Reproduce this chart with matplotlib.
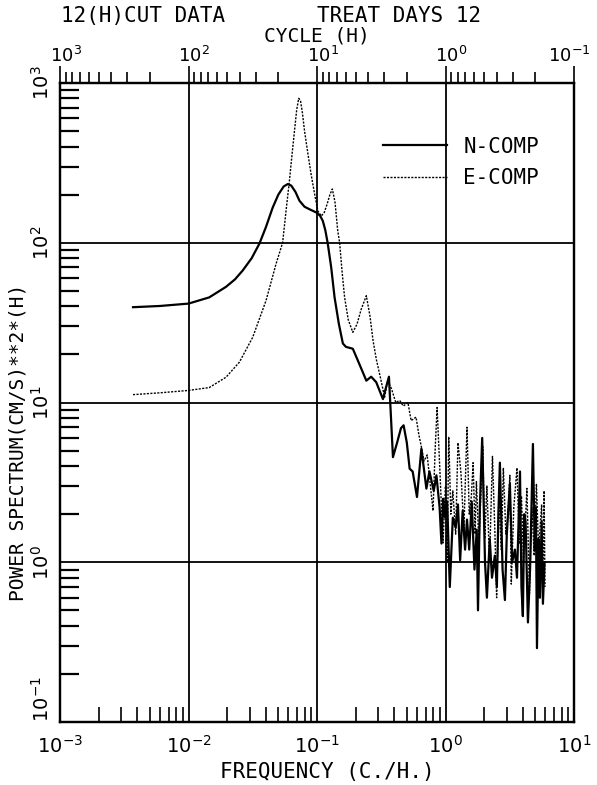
import numpy as np
import matplotlib.pyplot as plt
import matplotlib.transforms as mtransforms
from matplotlib.ticker import FixedLocator, NullFormatter

plt.rcParams['font.family'] = ['DejaVu Sans Mono', 'DejaVu Sans']

# N-COMP spectrum (solid)
n_freq = [0.0037, 0.006, 0.0100, 0.0145, 0.0196, 0.0230, 0.0264, 0.031, 0.0356, 0.040,
          0.0452, 0.050, 0.055, 0.0592, 0.063, 0.068, 0.0731, 0.080, 0.0875, 0.095,
          0.100, 0.106, 0.111, 0.116, 0.121, 0.129, 0.137, 0.148, 0.159, 0.168,
          0.19, 0.208, 0.227, 0.242, 0.264, 0.289, 0.326, 0.345, 0.363, 0.39,
          0.42, 0.45, 0.472, 0.50, 0.526, 0.555, 0.60, 0.649, 0.71, 0.75,
          0.81, 0.85, 0.90, 0.93, 0.96, 0.986, 1.03, 1.08, 1.14, 1.20,
          1.25, 1.30, 1.36, 1.42, 1.47, 1.53, 1.60, 1.68, 1.75, 1.79,
          1.85, 1.93, 2.03, 2.10, 2.21, 2.30, 2.42, 2.51, 2.58, 2.65,
          2.78, 2.90, 3.0, 3.17, 3.30, 3.47, 3.60, 3.80, 3.90, 4.0,
          4.1, 4.2, 4.38, 4.55, 4.79, 4.95, 5.05, 5.15, 5.3, 5.43,
          5.6, 5.73, 5.9]
n_power = [39.5, 40.2, 41.6, 45.5, 53, 59, 67, 80, 98.6, 125,
           166, 200, 225, 233, 228, 208, 183, 168, 162, 157,
           154, 147, 137, 120, 100, 70, 45.5, 31, 23.4, 22.3,
           21.7, 18.3, 15.5, 13.7, 14.5, 13.4, 10.5, 12.5, 14.5, 4.55,
           5.6, 6.9, 7.2, 5.6, 3.85, 3.7, 2.56, 5.14, 2.89, 3.7,
           2.8, 3.5, 2.2, 1.31, 2.5, 1.92, 2.4, 0.70, 1.9, 1.65,
           2.3, 1.03, 2.1, 1.2, 1.85, 1.2, 2.4, 0.9, 1.6, 0.5,
           2.2, 6.0, 1.0, 0.6, 1.4, 0.8, 1.1, 0.7, 2.0, 4.2,
           0.9, 0.58, 1.5, 3.1, 1.0, 1.2, 0.8, 3.7, 0.7, 0.46,
           2.0, 1.8, 0.42, 0.9, 5.5, 1.2, 2.2, 0.29, 1.4, 0.6,
           1.8, 0.55, 1.0]

# E-COMP spectrum (dotted)
e_freq = [0.0037, 0.006, 0.0100, 0.0145, 0.0196, 0.0249, 0.0316, 0.0401, 0.048, 0.054,
          0.0575, 0.061, 0.064, 0.0668, 0.0695, 0.0721, 0.0745, 0.077, 0.080, 0.085,
          0.090, 0.096, 0.1016, 0.108, 0.114, 0.120, 0.126, 0.1316, 0.138, 0.145,
          0.150, 0.157, 0.164, 0.175, 0.19, 0.205, 0.22, 0.242, 0.258, 0.273,
          0.29, 0.307, 0.336, 0.354, 0.38, 0.41, 0.44, 0.47, 0.51, 0.54,
          0.59, 0.62, 0.65, 0.68, 0.72, 0.76, 0.80, 0.83, 0.86, 0.90,
          0.956, 1.0, 1.03, 1.06, 1.10, 1.14, 1.20, 1.25, 1.32, 1.39,
          1.47, 1.53, 1.59, 1.64, 1.70, 1.74, 1.82, 1.95, 2.02, 2.10,
          2.20, 2.32, 2.42, 2.50, 2.60, 2.72, 2.82, 2.95, 3.05, 3.17,
          3.25, 3.40, 3.6, 3.75, 3.9, 4.05, 4.3, 4.5, 4.7, 4.9,
          5.1, 5.3, 5.6, 5.73, 5.85, 5.95]
e_power = [11.2, 11.5, 11.9, 12.4, 14.4, 17.9, 25.6, 43.4, 73.7, 100,
           160, 244, 360, 501, 680, 802, 770, 650, 500, 360,
           268, 200, 158, 147, 155, 175, 200, 217, 180, 119,
           100, 65, 45.5, 33, 27.5, 31, 38, 46.6, 35, 24.4,
           18.5, 15.1, 10.8, 13.7, 12.2, 10.0, 10.3, 9.5, 10.0, 7.7,
           8.1, 6.3, 5.25, 4.3, 4.7, 3.1, 2.1, 5.0, 9.3, 4.1,
           1.32, 3.0, 1.0, 6.1, 2.0, 2.8, 1.5, 5.6, 3.6, 1.6,
           7.0, 2.0, 2.6, 4.2, 1.5, 3.2, 1.3, 5.3, 1.4, 3.0,
           1.0, 4.6, 1.6, 0.6, 2.5, 1.2, 3.9, 1.5, 1.9, 3.5,
           0.73, 2.2, 3.9, 1.3, 2.6, 1.0, 2.9, 0.64, 2.2, 1.1,
           3.1, 1.2, 2.3, 0.55, 2.8, 0.7]

decades = [1e-3, 1e-2, 1e-1, 1e0, 1e1]
x_labels = ['$10^{-3}$', '$10^{-2}$', '$10^{-1}$', '$10^{0}$', '$10^{1}$']
y_decades = [1e-1, 1e0, 1e1, 1e2, 1e3]
y_labels = ['$10^{-1}$', '$10^{0}$', '$10^{1}$', '$10^{2}$', '$10^{3}$']
cycle_labels = ['$10^{3}$', '$10^{2}$', '$10^{1}$', '$10^{0}$', '$10^{-1}$']

fig = plt.figure(figsize=(5.97, 7.85), dpi=100)
ax = fig.add_axes([60/597, 1 - 722/785, 514/597, 639/785])

ax.plot(n_freq, n_power, color='black', lw=1.6, label='N-COMP')
ax.plot(e_freq, e_power, color='black', lw=1.0, linestyle=(0, (1.5, 1.0)), label='E-COMP')

ax.set_xscale('log')
ax.set_yscale('log')
ax.set_xlim(1e-3, 1e1)
ax.set_ylim(1e-1, 1e3)

ax.xaxis.set_major_locator(FixedLocator(decades))
ax.set_xticklabels(x_labels, fontsize=14)
ax.yaxis.set_major_locator(FixedLocator(y_decades))
ax.set_yticklabels(y_labels, fontsize=14, rotation=90, va='center')
ax.get_yticklabels()[0].set_va('bottom')

minor = [k * 10.0 ** n for n in range(-3, 3) for k in range(2, 10)]
ax.xaxis.set_minor_locator(FixedLocator([m for m in minor if 1e-3 < m < 1e1]))
ax.yaxis.set_minor_locator(FixedLocator([m for m in minor if 1e-1 < m < 1e3]))
ax.xaxis.set_minor_formatter(NullFormatter())
ax.yaxis.set_minor_formatter(NullFormatter())

ax.grid(which='major', color='black', lw=1.3)
ax.tick_params(axis='x', which='major', length=0, pad=9)
ax.tick_params(axis='y', which='major', length=0, pad=5)
ax.tick_params(axis='x', which='minor', direction='in', length=11, width=1.2, top=False)
ax.tick_params(axis='y', which='minor', direction='in', length=14, width=1.6, right=False)
for s in ax.spines.values():
    s.set_linewidth(1.6)

# top axis: cycle (h) = 1 / frequency
ax2 = ax.twiny()
ax2.set_xscale('log')
ax2.set_xlim(ax.get_xlim())
ax2.xaxis.set_major_locator(FixedLocator(decades))
ax2.set_xticklabels(cycle_labels, fontsize=13)
cyc_minor = [1.0 / (k * 10.0 ** n) for n in range(-1, 3) for k in range(2, 10)]
ax2.xaxis.set_minor_locator(FixedLocator(cyc_minor))
ax2.xaxis.set_minor_formatter(NullFormatter())
ax2.tick_params(which='major', direction='out', length=12, width=1.2, pad=0)
ax2.tick_params(which='minor', direction='out', length=8, width=1.2)
shift = mtransforms.ScaledTranslation(4/72, 0, fig.dpi_scale_trans)
top_labels = ax2.get_xticklabels()
for lab in top_labels[:-1]:
    lab.set_transform(lab.get_transform() + shift)
top_labels[-1].set_ha('right')
top_labels[-1].set_transform(top_labels[-1].get_transform()
                             + mtransforms.ScaledTranslation(12/72, 0, fig.dpi_scale_trans))
for s in ax2.spines.values():
    s.set_linewidth(1.6)

fig.text(317/597, 1 - 36/785, 'CYCLE (H)', ha='center', va='center', fontsize=14)
fig.text(327/597, 1 - 772/785, 'FREQUENCY (C./H.)', ha='center', va='center', fontsize=15)
fig.text(18/597, 1 - 442/785, 'POWER SPECTRUM(CM/S)**2*(H)', rotation=90,
         ha='center', va='center', fontsize=14)

fig.text(61/597, 1 - 16/785, '12(H)CUT DATA', ha='left', va='center', fontsize=15)
fig.text(317/597, 1 - 16/785, 'TREAT DAYS 12', ha='left', va='center', fontsize=15)

ax.legend(loc='upper left', bbox_to_anchor=(0.628, 0.916), frameon=False,
          borderpad=0, borderaxespad=0, handlelength=3.1, handletextpad=0.77,
          labelspacing=0.54, fontsize=15)

fig.savefig('out.png', dpi=100)
